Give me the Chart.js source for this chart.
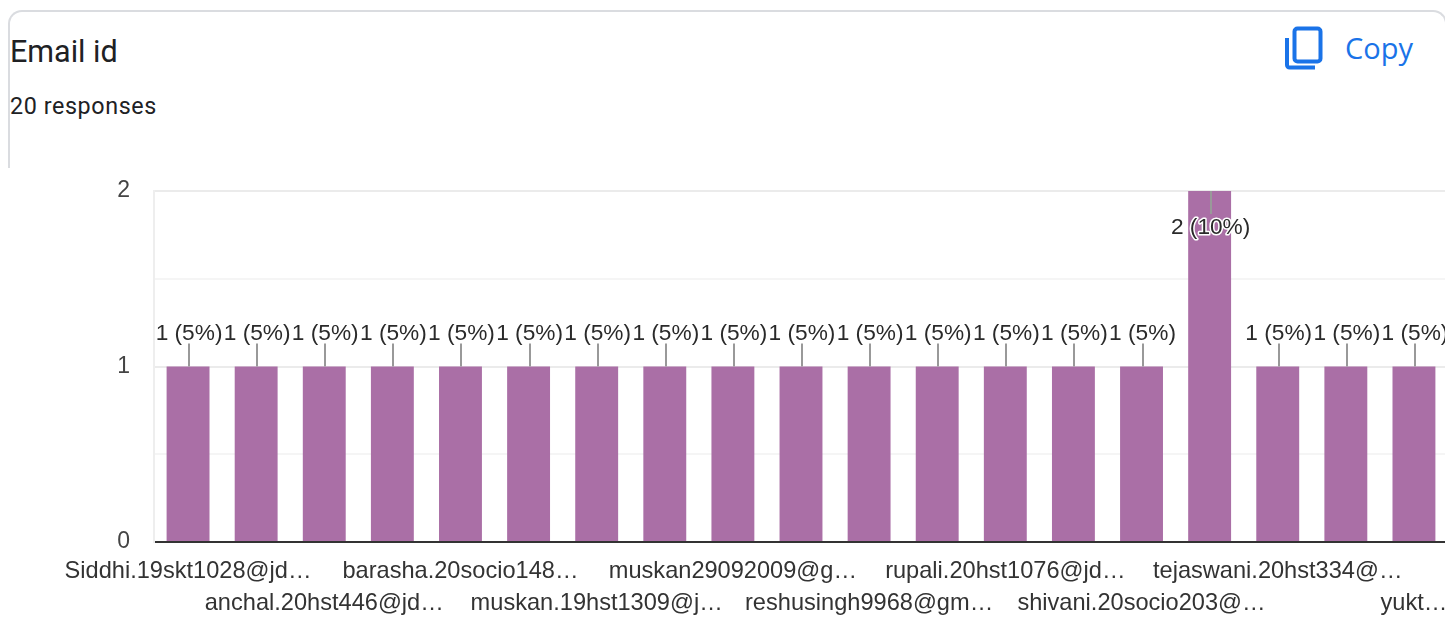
<!DOCTYPE html>
<html>
<head>
<meta charset="utf-8">
<title>Email id</title>
<script src="https://cdn.jsdelivr.net/npm/chart.js@4"></script>
<style>
  html, body { margin: 0; padding: 0; background: #fff; overflow: hidden; width: 1445px; height: 636px; }
  #card { position: absolute; left: 8px; top: 10px; width: 1435px; height: 156px; box-sizing: content-box;
          border: 2px solid #dadce0; border-bottom: none; border-radius: 14px 14px 0 0; }
  #title { position: absolute; left: 10px; top: 34px; font: 400 30.5px/36px Roboto, sans-serif; color: #202124; }
  #sub { position: absolute; left: 10px; top: 92px; font: 400 23.3px/28px Roboto, sans-serif; letter-spacing: .6px; color: #202124; }
  #copy { position: absolute; left: 1345px; top: 30px; font: 500 29px/36px "Open Sans", sans-serif; color: #1a73e8; }
  #icon { position: absolute; left: 1283px; top: 24px; }
  #chart1 { position: absolute; left: 0; top: 0; }
</style>
</head>
<body>
<div id="card"></div>
<div id="title">Email id</div>
<div id="sub">20 responses</div>
<svg id="icon" width="42" height="48" viewBox="0 0 42 48">
  <rect x="11.5" y="4.5" width="26" height="33" rx="3" fill="none" stroke="#1a73e8" stroke-width="4"/>
  <path d="M4 14 V41 a2.5 2.5 0 0 0 2.5 2.5 H32" fill="none" stroke="#1a73e8" stroke-width="4"/>
</svg>
<div id="copy">Copy</div>
<canvas id="chart1" width="1470" height="636"></canvas>
<script>
// only every other category name is readable in the picture
const categories = [
  'Siddhi.19skt1028@jd…', '', 'anchal.20hst446@jd…', '', 'barasha.20socio148…', '',
  'muskan.19hst1309@j…', '', 'muskan29092009@g…', '', 'reshusingh9968@gm…', '',
  'rupali.20hst1076@jd…', '', 'shivani.20socio203@…', '', 'tejaswani.20hst334@…', '', 'yukt…'
];
const values = [1, 1, 1, 1, 1, 1, 1, 1, 1, 1, 1, 1, 1, 1, 1, 2, 1, 1, 1];
const valueLabels = ['1 (5%)', '1 (5%)', '1 (5%)', '1 (5%)', '1 (5%)', '1 (5%)', '1 (5%)', '1 (5%)', '1 (5%)', '1 (5%)',
  '1 (5%)', '1 (5%)', '1 (5%)', '1 (5%)', '1 (5%)', '2 (10%)', '1 (5%)', '1 (5%)', '1 (5%)'];
const yTicks = [0, 1, 2];

const FONT = '"Liberation Sans", Arial, sans-serif';

// "1 (5%)" labels with leader lines, the tall bar gets its label inside
const barLabels = {
  id: 'barLabels',
  afterDatasetsDraw(chart) {
    const ctx = chart.ctx;
    const yMax = chart.scales.y.max;
    ctx.save();
    ctx.font = '22.7px ' + FONT;
    ctx.textAlign = 'center';
    ctx.textBaseline = 'middle';
    chart.getDatasetMeta(0).data.forEach((bar, i) => {
      const inside = values[i] === yMax;
      const dir = inside ? 1 : -1;
      const x = Math.round(bar.x) + 1;
      ctx.strokeStyle = '#999';
      ctx.lineWidth = 2;
      ctx.beginPath();
      ctx.moveTo(x, bar.y);
      ctx.lineTo(x, bar.y + dir * 23);
      ctx.stroke();
      const ty = bar.y + dir * (inside ? 37 : 33);
      ctx.strokeStyle = '#fff';
      ctx.lineWidth = 3;
      ctx.lineJoin = 'round';
      ctx.strokeText(valueLabels[i], bar.x + 1, ty);
      ctx.fillStyle = '#2a2a2a';
      ctx.fillText(valueLabels[i], bar.x + 1, ty);
    });
    ctx.restore();
  }
};

new Chart(document.getElementById('chart1').getContext('2d'), {
  type: 'bar',
  plugins: [barLabels],
  data: {
    labels: categories,
    datasets: [{ data: values, backgroundColor: '#aa6fa6', categoryPercentage: 1, barPercentage: 0.63 }]
  },
  options: {
    responsive: false,
    animation: false,
    layout: { padding: { top: 191, right: 22, left: 0, bottom: 0 } },
    plugins: { legend: { display: false }, tooltip: { enabled: false } },
    scales: {
      x: {
        afterFit(scale) { scale.height = 94; },
        grid: { display: false },
        border: { color: '#333', width: 2 },
        ticks: {
          autoSkip: false, maxRotation: 0, minRotation: 0, padding: 5,
          color: '#333', font: { family: FONT, size: 23.6, lineHeight: 1.36 },
          callback(v, i) {
            if (i % 4 === 0) return [categories[i], ''];
            if (i % 4 === 2) return ['', categories[i]];
            return '';
          }
        }
      },
      y: {
        min: 0, max: 2,
        afterFit(scale) { scale.width = 154; },
        border: { color: '#eee', width: 2 },
        grid: {
          drawTicks: false,
          color: c => Number.isInteger(c.tick.value) ? '#ebebeb' : '#f5f5f5',
          lineWidth: 2
        },
        ticks: {
          stepSize: 0.5, padding: 24, color: '#444', font: { family: FONT, size: 23 },
          callback: v => yTicks.includes(v) ? String(v) : ''
        }
      }
    }
  }
});
</script>
</body>
</html>
